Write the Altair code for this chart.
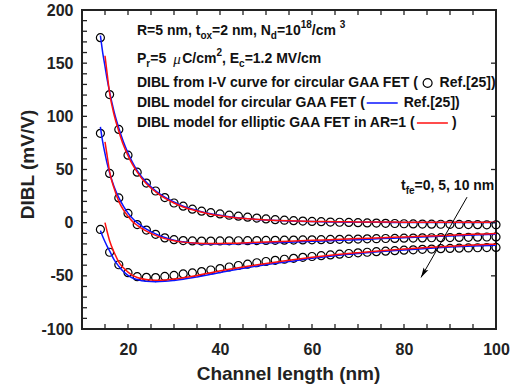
import altair as alt
import pandas as pd

# ---------------- axes ----------------
X_DOMAIN = [10, 100]
Y_DOMAIN = [-100, 200]
PW, PH = 414, 319           # plot area in px
INK = "#222222"
FONT = "Liberation Sans"

# ---------------- DIBL extracted from I-V curves (circles) ----------------
L_iv = list(range(14, 101, 2))
iv_tfe0 = [174, 120.5, 87.7, 63.5, 47.5, 37.2, 29.8, 23.6, 18.5, 15.5,
           12.7, 10.8, 9.4, 8.2, 7.0, 6.1, 5.2, 4.3, 3.5, 2.8,
           2.3, 1.9, 1.5, 1.2, 0.9, 0.6, 0.4, 0.2, 0.0, -0.2,
           -0.4, -0.6, -0.8, -1.0, -1.2, -1.3, -1.4, -1.5, -1.6, -1.7,
           -1.8, -1.9, -2.0, -2.0]
iv_tfe5 = [84, 46.3, 23.3, 8.7, -1.8, -7, -11, -14.3, -16, -16.8,
           -17.2, -17.3, -17.3, -17.2, -17.1, -17, -16.9, -16.8, -16.7, -16.6,
           -16.5, -16.4, -16.2, -16.1, -16.0, -15.8, -15.7, -15.5, -15.4, -15.2,
           -15.1, -14.9, -14.8, -14.6, -14.5, -14.3, -14.2, -14.1, -14.0, -13.9,
           -13.8, -13.6, -13.5, -13.4]
iv_tfe10 = [-6.4, -27.8, -39.6, -47, -50.8, -51.4, -51.6, -50.6, -49.6, -48.2,
            -47.3, -46, -44.5, -43.2, -41.7, -40.3, -39, -37.7, -36.5, -35.4,
            -34.4, -33.5, -32.6, -31.8, -31, -30.3, -29.6, -29, -28.4, -27.8,
            -27.3, -26.8, -26.3, -25.9, -25.5, -25.1, -24.8, -24.5, -24.2, -24,
            -23.8, -23.6, -23.4, -23.3]

# ---------------- circular GAA model (blue) ----------------
L_blue = [14, 14.5, 15, 15.5, 16, 17, 18, 19, 20, 21, 22, 24, 26, 28, 30, 32,
          35, 38, 42, 46, 50, 55, 60, 65, 70, 75, 80, 85, 90, 95, 100]
blue_tfe0 = [176, 160, 147, 134, 123, 104, 89, 76, 65.5, 56.5, 49, 38, 30, 24, 19.5, 15.5,
             11.5, 8.3, 5.6, 3.8, 2.6, 1.6, 1.0, 0.6, 0.4, 0.3, 0.2, 0.2, 0.2, 0.2, 0.2]
blue_tfe5 = [90, 76, 65, 55, 47, 33.5, 23.5, 15.5, 9, 4, 0, -6, -10.5, -14, -16.5, -18,
             -19.5, -20, -20, -19.5, -19, -18.3, -17.5, -16.8, -16, -15, -14.2, -13.3, -12.5, -11.7, -11]
blue_tfe10 = [-7.5, -13, -18, -22.5, -26.5, -35, -41, -46, -49.5, -52, -53.5, -55.2, -55.6, -55.2, -54.3, -53.2,
              -51, -48.5, -45.2, -42.3, -39.5, -36.5, -33.5, -31, -29, -27.2, -25.6, -24.2, -23, -22, -21.2]

# ---------------- elliptic GAA model, AR=1 (red) ----------------
L_red = [15, 15.5, 16, 17, 18, 19, 20, 21, 22, 24, 26, 28, 30, 32,
         35, 38, 42, 46, 50, 55, 60, 65, 70, 75, 80, 85, 90, 95, 100]
red_tfe0 = [157, 139, 122, 101, 86, 73, 63, 54.5, 47.5, 36.5, 29, 23, 18.5, 14.8,
            11, 8, 5.4, 3.7, 2.6, 1.7, 1.2, 0.9, 0.7, 0.6, 0.5, 0.5, 0.4, 0.4, 0.4]
red_tfe5 = [76, 62, 48, 32, 20, 12, 6, 1, -2.5, -8, -12, -15, -17, -18.3,
            -19.3, -19.6, -19.4, -18.8, -18.2, -17.4, -16.6, -15.8, -15, -14.2, -13.4, -12.6, -11.8, -11, -10.2]
red_tfe10 = [0, -9, -17, -28, -37, -42.5, -46.5, -49.5, -51.5, -53.5, -54.2, -54, -53, -51.8,
             -49.6, -47, -43.8, -41, -38.4, -35.4, -32.6, -30.2, -28.2, -26.4, -24.8, -23.4, -22.2, -21.1, -20.2]

# ---------------- tick positions ----------------
x_ticks_bottom = list(range(10, 101, 5))
x_ticks_top = list(range(10, 101, 5))
y_ticks_left = list(range(-100, 201, 10))
y_ticks_right = [-50, 0, 50, 100, 150]
x_labels = [20, 40, 60, 80, 100]
y_labels = [-100, -50, 0, 50, 100, 150, 200]

# arrow marking increasing t_fe
arrow_from = (93.7, 24)
arrow_to = (83.7, -51.5)


def long_table(xs, series):
    rows = []
    for name, ys in series.items():
        rows += [{"L": x, "DIBL": y, "tfe": name} for x, y in zip(xs, ys)]
    return pd.DataFrame(rows)


iv = long_table(L_iv, {"0": iv_tfe0, "5": iv_tfe5, "10": iv_tfe10})
blue = long_table(L_blue, {"0": blue_tfe0, "5": blue_tfe5, "10": blue_tfe10})
red = long_table(L_red, {"0": red_tfe0, "5": red_tfe5, "10": red_tfe10})

xs = alt.Scale(domain=X_DOMAIN, nice=False, zero=False)
ys = alt.Scale(domain=Y_DOMAIN, nice=False, zero=False)

x_axis = alt.Axis(values=x_labels, grid=False, ticks=False, domain=False, labelFlush=False,
                  labelFont=FONT, labelFontWeight="bold", labelFontSize=16,
                  labelColor=INK, labelPadding=12, labelExpr="'' + datum.value",
                  title="Channel length (nm)", titleFont=FONT, titleFontWeight="bold",
                  titleFontSize=19, titleColor=INK, titleX=206, titleY=44,
                  titleBaseline="middle", titleAlign="center")
y_axis = alt.Axis(values=y_labels, grid=False, ticks=False, domain=False, labelFlush=False,
                  labelFont=FONT, labelFontWeight="bold", labelFontSize=16,
                  labelColor=INK, labelPadding=9, labelExpr="'' + datum.value",
                  title="DIBL (mV/V)", titleFont=FONT, titleFontWeight="bold",
                  titleFontSize=19, titleColor=INK, titleX=-55, titleY=154,
                  titleAngle=270, titleBaseline="middle", titleAlign="center")

circles = alt.Chart(iv).mark_point(shape="circle", filled=False, color="black",
                                   size=64, strokeWidth=1.2, opacity=1).encode(
    x=alt.X("L:Q", scale=xs, axis=x_axis),
    y=alt.Y("DIBL:Q", scale=ys, axis=y_axis),
    detail="tfe:N",
)
blue_lines = alt.Chart(blue).mark_line(color="#0a14ff", strokeWidth=1.5,
                                       interpolate="monotone").encode(
    x="L:Q", y="DIBL:Q", detail="tfe:N")
red_lines = alt.Chart(red).mark_line(color="#ff1010", strokeWidth=1.5,
                                     interpolate="monotone").encode(
    x="L:Q", y="DIBL:Q", detail="tfe:N")

# inward tick marks on all four sides
tick_style = dict(color=INK, strokeWidth=1.3)
t_left = alt.Chart(pd.DataFrame({"v": y_ticks_left})).mark_rule(**tick_style).encode(
    y="v:Q", x=alt.value(0), x2=alt.value(5))
t_right = alt.Chart(pd.DataFrame({"v": y_ticks_right})).mark_rule(**tick_style).encode(
    y="v:Q", x=alt.value(PW), x2=alt.value(PW - 5))
t_bottom = alt.Chart(pd.DataFrame({"v": x_ticks_bottom})).mark_rule(**tick_style).encode(
    x="v:Q", y=alt.value(PH), y2=alt.value(PH - 5))
t_top = alt.Chart(pd.DataFrame({"v": x_ticks_top})).mark_rule(**tick_style).encode(
    x="v:Q", y=alt.value(0), y2=alt.value(5))

# ---------------- annotation text ----------------
# Arial-Bold advance widths (1/1000 em) used to lay out sub/superscripts
W = {' ': 278, '(': 333, ')': 333, ',': 278, '-': 333, '.': 278, '/': 278, '=': 584,
     '[': 333, ']': 333, 'A': 722, 'B': 722, 'C': 722, 'D': 722, 'E': 667, 'F': 611,
     'G': 778, 'I': 278, 'L': 611, 'M': 833, 'N': 722, 'O': 778, 'P': 667, 'R': 722,
     'T': 611, 'V': 667, 'a': 556, 'c': 556, 'd': 611, 'e': 556, 'f': 333, 'g': 611,
     'h': 611, 'i': 278, 'l': 278, 'm': 889, 'n': 611, 'o': 611, 'p': 611, 'r': 389,
     's': 556, 't': 333, 'u': 611, 'v': 556, 'x': 556, 'y': 556, 'μ': 600}
FS, FS_SMALL = 14, 10
STYLE = {"n": (FS, 0), "sub": (FS_SMALL, 5), "sup": (FS_SMALL, -6), "mu": (FS + 1, 0)}


def px_to_x(px):
    return X_DOMAIN[0] + px * (X_DOMAIN[1] - X_DOMAIN[0]) / PW


def px_to_y(py):
    return Y_DOMAIN[1] - py * (Y_DOMAIN[1] - Y_DOMAIN[0]) / PH


def width(s, fs):
    return sum(W.get(ch, 556) for ch in s) * fs / 1000


text_rows, mu_rows, sym_pts, sym_lines = [], [], [], []


def lay_out(x0, yc, segments):
    cur = x0
    for seg in segments:
        kind = seg[0]
        if kind in STYLE:
            s = seg[1]
            fs, dy = STYLE[kind]
            row = {"ax": px_to_x(cur), "ay": px_to_y(yc + dy), "text": s, "fs": fs}
            (mu_rows if kind == "mu" else text_rows).append(row)
            cur += width(s, fs)
        elif kind == "gap":
            cur += seg[1]
        elif kind == "circle":
            sym_pts.append({"ax": px_to_x(cur + 5), "ay": px_to_y(yc)})
            cur += 10
        elif kind == "line":
            sym_lines.append({"ax": px_to_x(cur), "ax2": px_to_x(cur + 31),
                              "ay": px_to_y(yc), "c": seg[1]})
            cur += 31


LX = 55
lay_out(LX, 21, [("n", "R=5 nm, t"), ("sub", "ox"), ("n", "=2 nm, N"), ("sub", "d"),
                 ("n", "=10"), ("sup", "18"), ("n", " /cm"), ("sup", "3")])
lay_out(LX, 49, [("n", "P"), ("sub", "r"), ("n", "=5"), ("gap", 7), ("mu", "μ"),
                 ("n", "C/cm"), ("sup", "2"), ("n", ", E"), ("sub", "c"), ("n", "=1.2 MV/cm")])
lay_out(LX, 73, [("n", "DIBL from I-V curve for circular GAA FET ("), ("gap", 4),
                 ("circle",), ("gap", 7), ("n", "Ref.[25])")])
lay_out(LX, 93, [("n", "DIBL model for circular GAA FET ("), ("gap", 1),
                 ("line", "blue"), ("gap", 6), ("n", "Ref.[25])")])
lay_out(LX, 113, [("n", "DIBL model for elliptic GAA FET in AR=1 ("), ("gap", 1),
                  ("line", "red"), ("gap", 4), ("n", ")")])
lay_out(319, 176, [("n", "t"), ("sub", "fe"), ("n", "=0, 5, 10 nm")])

text_layer = alt.Chart(pd.DataFrame(text_rows)).mark_text(
    align="left", baseline="middle", font=FONT, fontWeight="bold", color="#111111").encode(
    x="ax:Q", y="ay:Q", text="text:N", size=alt.Size("fs:Q", scale=None, legend=None))
mu_layer = alt.Chart(pd.DataFrame(mu_rows)).mark_text(
    align="left", baseline="middle", font="Liberation Serif", fontStyle="italic",
    color="#111111").encode(
    x="ax:Q", y="ay:Q", text="text:N", size=alt.Size("fs:Q", scale=None, legend=None))
sym_circle = alt.Chart(pd.DataFrame(sym_pts)).mark_point(
    shape="circle", filled=False, color="black", size=80, strokeWidth=1.2, opacity=1).encode(
    x="ax:Q", y="ay:Q")
sym_line = alt.Chart(pd.DataFrame(sym_lines)).mark_rule(strokeWidth=1.5).encode(
    x="ax:Q", x2="ax2:Q", y="ay:Q",
    color=alt.Color("c:N", scale=alt.Scale(domain=["blue", "red"], range=["#0a14ff", "#ff1010"]),
                    legend=None))

arrow_df = pd.DataFrame([{"ax": arrow_from[0], "ay": arrow_from[1],
                          "ax2": arrow_to[0], "ay2": arrow_to[1]}])
arrow_line = alt.Chart(arrow_df).mark_rule(color="black", strokeWidth=1).encode(
    x="ax:Q", y="ay:Q", x2="ax2:Q", y2="ay2:Q")
arrow_head = alt.Chart(arrow_df).mark_point(
    shape="M0,0 L-0.55,2 L0,1.6 L0.55,2 Z", filled=True, color="black",
    size=100, angle=209.8, opacity=1).encode(x="ax2:Q", y="ay2:Q")

chart = alt.layer(
    circles, blue_lines, red_lines,
    t_left, t_right, t_bottom, t_top,
    text_layer, mu_layer, sym_circle, sym_line, arrow_line, arrow_head,
).properties(
    width=PW, height=PH,
    autosize=alt.AutoSizeParams(type="none"),
    padding={"left": 82, "top": 10, "right": 19, "bottom": 60},
    background="white",
).configure_view(stroke=INK, strokeWidth=2)

chart.save("out.html", embed_options={"renderer": "svg", "actions": False})
